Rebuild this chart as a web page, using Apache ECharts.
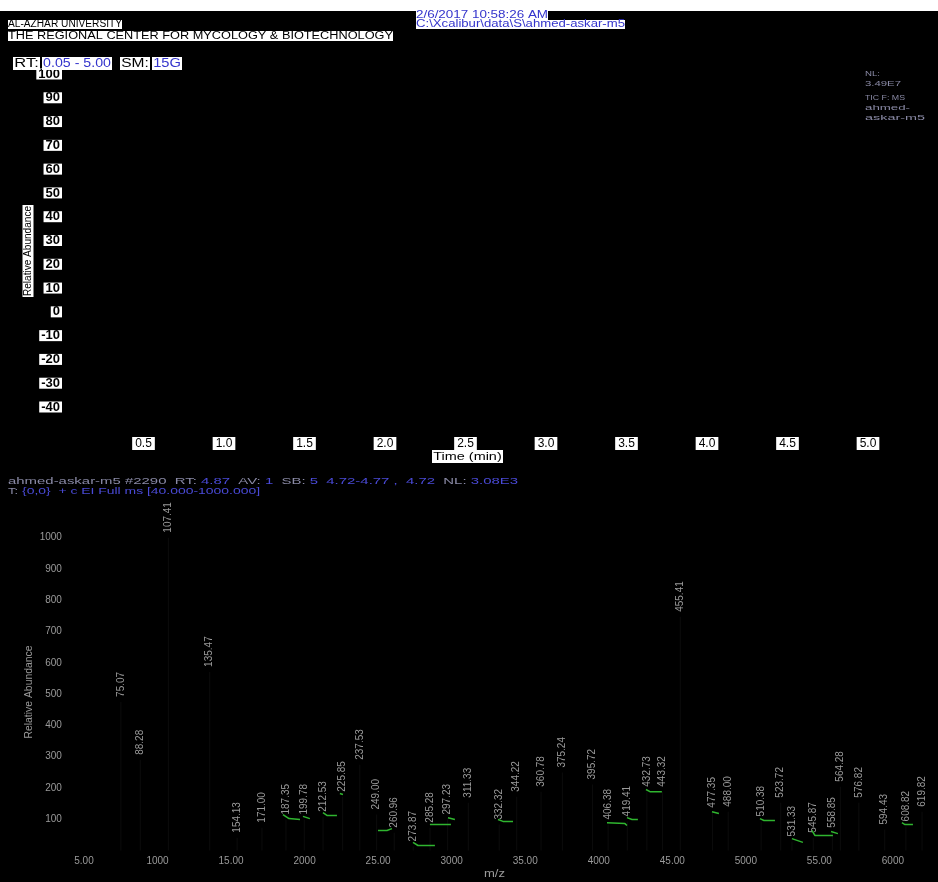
<!DOCTYPE html>
<html>
<head>
<meta charset="utf-8">
<title>ahmed-askar-m5</title>
<script src="https://cdn.jsdelivr.net/npm/echarts@6/dist/echarts.min.js"></script>
<style>
  html, body { margin: 0; padding: 0; background: #000; }
  #c { width: 938px; height: 882px; }
</style>
</head>
<body>
<div id="c"></div>
<script>
// ---- chromatogram (upper panel) axes ----
const timeTicks = [0.5, 1.0, 1.5, 2.0, 2.5, 3.0, 3.5, 4.0, 4.5, 5.0];
const abundanceTicks = [-40, -30, -20, -10, 0, 10, 20, 30, 40, 50, 60, 70, 80, 90, 100];

// ---- spectrum (lower panel) axes ----
const mzTickValues = [50, 100, 150, 200, 250, 300, 350, 400, 450, 500, 550, 600];
const mzTickLabels = ['5.00', '1000', '15.00', '2000', '25.00', '3000', '35.00', '4000', '45.00', '5000', '55.00', '6000'];
const intensityTickValues = [100, 200, 300, 400, 500, 600, 700, 800, 900, 1000];
const intensityTickLabels = ['100', '200', '300', '400', '500', '600', '700', '800', '900', '1000'];

// ---- spectrum peaks: m/z and intensity ----
const peakMz = [75.07, 88.28, 107.41, 135.47, 154.13, 171.00, 187.35, 199.78, 212.53, 225.85,
  237.53, 249.00, 260.96, 273.87, 285.28, 297.23, 311.33, 332.32, 344.22, 360.78,
  375.24, 395.72, 406.38, 419.41, 432.73, 443.32, 455.41, 477.35, 488.00, 510.38,
  523.72, 531.33, 545.87, 558.85, 564.28, 576.82, 594.43, 608.82, 619.82];
const peakIntensity = [475, 290, 1000, 571, 41, 73, 99, 99, 108, 172,
  274, 115, 57, 13, 73, 99, 153, 83, 172, 188,
  249, 211, 83, 93, 188, 188, 747, 121, 124, 93,
  153, 29, 41, 57, 204, 153, 67, 77, 124];

// ---- short green profile traces, each a list of [m/z, intensity] ----
const traceSegments = [
  [[185.3, 115], [189.4, 102], [196.9, 99]],
  [[198.9, 109], [203.6, 102]],
  [[212.5, 121], [215.2, 112], [222.0, 112]],
  [[224.0, 182], [226.1, 179]],
  [[249.9, 64], [256.0, 64], [256.0, 70], [259.4, 70]],
  [[273.7, 26], [277.1, 16], [288.6, 16]],
  [[285.2, 83], [299.5, 83]],
  [[297.5, 105], [302.2, 99]],
  [[331.5, 99], [334.9, 93], [341.7, 93]],
  [[405.6, 89], [417.8, 86], [419.2, 80]],
  [[419.2, 105], [422.6, 99], [426.6, 99]],
  [[432.1, 195], [434.8, 188], [442.9, 188]],
  [[477.0, 124], [481.7, 118]],
  [[509.6, 102], [512.3, 96], [519.8, 96]],
  [[531.3, 38], [538.8, 26]],
  [[544.9, 64], [547.0, 48], [559.2, 48]],
  [[557.9, 61], [562.6, 54]],
  [[606.1, 89], [608.2, 83], [613.6, 83]]
];

const FONT = '"Liberation Sans", Arial, sans-serif';
const BLUE = '#3434cc';
const GREY = '#9a9a9a';
const DIM = '#8a8aa6';
const SCAN_BLUE = '#4a4ad8';

const measureCtx = document.createElement('canvas').getContext('2d');
function textWidth(str, size, weight) {
  measureCtx.font = (weight || 'normal') + ' ' + size + 'px ' + FONT;
  return measureCtx.measureText(str).width;
}

// Text block whose box is stretched to a given width
function boxText(str, x, y, w, o) {
  o = o || {};
  const size = o.size || 10, weight = o.weight || 'normal';
  const padH = o.padH || 0, padV = o.padV || 0;
  const natural = textWidth(str, size, weight) + 2 * padH;
  const font = weight + ' ' + size + 'px ' + FONT;
  const style = {
    text: o.richText || str, font: font, fill: o.color || '#000',
    align: 'left', verticalAlign: 'top', lineHeight: o.lh || size,
    padding: [padV, padH]
  };
  if (o.bg) style.backgroundColor = o.bg;
  if (o.rich) {
    style.rich = {};
    Object.keys(o.rich).forEach(k => {
      style.rich[k] = { fill: o.rich[k], font: font, lineHeight: o.lh || size };
    });
  }
  return { type: 'text', x: x, y: y, scaleX: w / natural, style: style, z: 10, silent: true };
}

// Vertical text centred on (cx, cy), reading bottom to top
function vText(str, cx, cy, len, o) {
  o = o || {};
  const size = o.size || 10;
  const padH = o.padH || 0, padV = o.padV || 0;
  const natural = textWidth(str, size) + 2 * padH;
  const style = {
    text: str, font: size + 'px ' + FONT, fill: o.color || '#000',
    align: 'center', verticalAlign: 'middle', lineHeight: o.lh || size,
    padding: [padV, padH]
  };
  if (o.bg) style.backgroundColor = o.bg;
  return { type: 'text', x: cx, y: cy, rotation: Math.PI / 2, scaleX: len / natural, style: style, z: 10, silent: true };
}

// scan header: label parts in grey, values in blue
const headerLine1 = '{g|ahmed-askar-m5 #2290  RT:} {b|4.87}  {g|AV:} {b|1}  {g|SB:} {b|5  4.72-4.77 ,  4.72}  {g|NL:} {b|3.08E3}';
const headerLine1Plain = 'ahmed-askar-m5 #2290  RT: 4.87  AV: 1  SB: 5  4.72-4.77 ,  4.72  NL: 3.08E3';
const headerLine2Label = 'T:';
const headerLine2Value = '{0,0}  + c EI Full ms [40.000-1000.000]';

const graphics = [
  { type: 'rect', shape: { x: 0, y: 0, width: 938, height: 11 }, style: { fill: '#fff' }, z: 5, silent: true },
  boxText('AL-AZHAR UNIVERSITY', 8, 20, 114, { size: 10, lh: 9, bg: '#fff' }),
  boxText('THE REGIONAL CENTER FOR MYCOLOGY & BIOTECHNOLOGY', 8, 31, 385, { size: 10, lh: 10, bg: '#fff' }),
  boxText('2/6/2017 10:58:26 AM', 416, 11, 132, { size: 10, lh: 9, bg: '#fff', color: BLUE }),
  boxText('C:\\Xcalibur\\data\\S\\ahmed-askar-m5', 416, 20, 209, { size: 10, lh: 9, bg: '#fff', color: BLUE }),
  boxText('RT:', 13, 57, 27, { size: 13, lh: 13, bg: '#fff', padH: 1 }),
  boxText('0.05 - 5.00', 42, 57, 70, { size: 13, lh: 13, bg: '#fff', padH: 1, color: BLUE }),
  boxText('SM:', 120, 57, 30, { size: 13, lh: 13, bg: '#fff', padH: 1 }),
  boxText('15G', 152, 57, 30, { size: 13, lh: 13, bg: '#fff', padH: 1, color: BLUE }),
  vText('Relative Abundance', 28, 251, 92, { size: 10, lh: 11, bg: '#fff', padH: 1 }),
  boxText('Time (min)', 432, 450, 71, { size: 11, lh: 13, bg: '#fff', padH: 1 }),
  boxText('NL:', 865, 70, 15, { size: 8, lh: 8, color: DIM }),
  boxText('3.49E7', 865, 80, 36, { size: 8, lh: 8, color: DIM }),
  boxText('TIC F: MS', 865, 94, 40, { size: 8, lh: 8, color: DIM }),
  boxText('ahmed-', 865, 104, 45, { size: 8, lh: 8, color: DIM }),
  boxText('askar-m5', 865, 114, 60, { size: 8, lh: 8, color: DIM }),
  boxText(headerLine1Plain, 8, 477, 510, { size: 9, lh: 9, richText: headerLine1, rich: { g: DIM, b: SCAN_BLUE } }),
  boxText(headerLine2Label, 8, 487, 10, { size: 9, lh: 9, color: DIM }),
  boxText(headerLine2Value, 22, 487, 238, { size: 9, lh: 9, color: SCAN_BLUE }),
  vText('Relative Abundance', 29, 692, 93, { size: 10, color: GREY }),
  boxText('m/z', 484, 869, 21, { size: 10, lh: 10, color: GREY })
];

// line data for the green traces, segments separated by gaps
const traceData = [];
traceSegments.forEach((seg, i) => {
  if (i > 0) traceData.push('-');
  seg.forEach(p => traceData.push(p));
});

const option = {
  backgroundColor: '#000',
  animation: false,
  textStyle: { fontFamily: FONT },
  grid: [
    { left: 63, top: 74, width: 869.4, height: 333 },
    { left: 61.9, top: 506.4, width: 867.8, height: 344.1 }
  ],
  xAxis: [
    {
      type: 'value', gridIndex: 0, min: 0, max: 5.4,
      axisLine: { show: false }, axisTick: { show: false }, splitLine: { show: false },
      axisLabel: {
        customValues: timeTicks, formatter: v => v.toFixed(1),
        color: '#000', backgroundColor: '#fff', padding: [1, 3],
        fontSize: 12, lineHeight: 11, margin: 30, fontFamily: FONT
      }
    },
    {
      type: 'value', gridIndex: 1, min: 35, max: 625,
      axisLine: { show: false }, axisTick: { show: false }, splitLine: { show: false },
      axisLabel: {
        customValues: mzTickValues,
        formatter: v => mzTickLabels[mzTickValues.indexOf(v)],
        color: GREY, fontSize: 10, margin: 6, fontFamily: FONT
      }
    }
  ],
  yAxis: [
    {
      type: 'value', gridIndex: 0, min: -40, max: 100,
      axisLine: { show: false }, axisTick: { show: false }, splitLine: { show: false },
      axisLabel: {
        customValues: abundanceTicks, formatter: v => String(v),
        color: '#000', backgroundColor: '#fff', padding: [0, 2],
        fontSize: 13, fontWeight: 'bold', lineHeight: 11, margin: 1, fontFamily: FONT
      }
    },
    {
      type: 'value', gridIndex: 1, min: 0, max: 1100,
      axisLine: { show: false }, axisTick: { show: false }, splitLine: { show: false },
      axisLabel: {
        customValues: intensityTickValues,
        formatter: v => intensityTickLabels[intensityTickValues.indexOf(v)],
        color: GREY, fontSize: 10, margin: 0, fontFamily: FONT
      }
    }
  ],
  graphic: graphics,
  series: [
    {
      type: 'line', xAxisIndex: 0, yAxisIndex: 0, data: [],
      showSymbol: false, lineStyle: { color: '#000' }
    },
    {
      type: 'bar', xAxisIndex: 1, yAxisIndex: 1,
      barWidth: 1,
      itemStyle: { color: '#0c0c0c' },
      data: peakMz.map((m, i) => [m, peakIntensity[i]]),
      label: {
        show: true, position: 'top', distance: 5, rotate: 90,
        align: 'left', verticalAlign: 'middle',
        formatter: p => p.value[0].toFixed(2),
        color: GREY, fontSize: 10, fontFamily: FONT
      },
      silent: true
    },
    {
      type: 'line', xAxisIndex: 1, yAxisIndex: 1,
      data: traceData, connectNulls: false,
      showSymbol: false, symbol: 'none',
      lineStyle: { color: '#2fb52f', width: 1.5 },
      silent: true
    }
  ]
};

const chart = echarts.init(document.getElementById('c'), null, { renderer: 'canvas', width: 938, height: 882 });
chart.setOption(option);
</script>
</body>
</html>
